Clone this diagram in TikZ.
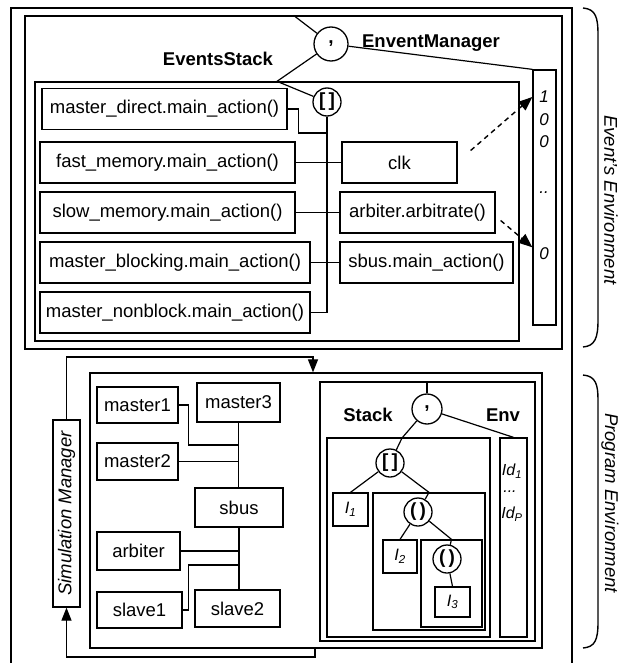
\documentclass[tikz,border=0pt]{standalone}
\usepackage{fontspec}
\setmainfont{Liberation Sans}
\usetikzlibrary{arrows.meta}
\begin{document}
\begin{tikzpicture}[
            x=1pt, y=-1pt,
            line width=1.3pt,
            every node/.style={font=\fontsize{18.5}{20}\selectfont},
            cell/.style={draw, rectangle, inner sep=0pt},
            panel/.style={draw, rectangle, inner sep=0pt},
            op/.style={circle, draw, fill=white, inner sep=0pt, font=\fontsize{19}{20}\selectfont\bfseries},
            title/.style={font=\fontsize{18.5}{20}\selectfont\bfseries},
            bit/.style={inner sep=0pt, font=\fontsize{17}{18}\selectfont\itshape},
            link/.style={line width=1.2pt},
            cue/.style={line width=1.4pt, dash pattern=on 5pt off 4pt, -{Triangle[length=14pt,width=11pt]}},
            flow/.style={line width=1.2pt, -{Triangle[length=13pt,width=10pt]}},
            side/.style={rotate=-90, font=\fontsize{18.5}{20}\selectfont\itshape},
            bracket/.style={line width=1.4pt}
        ]
            \useasboundingbox (0,0) rectangle (624,663);

            % event's environment
            \draw (11,663) -- (11,8) -- (572,8) -- (572,663);
            \node[panel, minimum width=537pt, minimum height=333pt] (evenv) at (293.5,182.5) {};
            \node[panel, minimum width=484pt, minimum height=259pt] (evstack) at (277,211.5) {};
            \node[panel, minimum width=23pt, minimum height=255pt] (evcol) at (544.5,197.5) {};
            \node[op, minimum size=34pt] (evcomma) at (331,44) {,};
            \node[op, minimum size=28pt] (evlist) at (327,102) {[\,]};
            \node[title] (evmgrlbl) at (431,43) {EnventManager};
            \node[title] (evstklbl) at (218,59) {EventsStack};

            \foreach \n/\x/\y/\w/\t in {md/164.5/109/245/master\_direct.main\_action(),
                fm/167.5/162.5/255/fast\_memory.main\_action(),
                sm/167.5/212.5/255/slow\_memory.main\_action(),
                mb/175/262.5/270/master\_blocking.main\_action(),
                mn/175/312.5/270/master\_nonblock.main\_action(),
                clk/399.5/162.5/115/clk,
                arb/417.5/212.5/155/arbiter.arbitrate(),
                sbm/426.5/262.5/173/sbus.main\_action()} {
                \node[cell, minimum width=\w pt, minimum height=41pt] (\n) at (\x,\y) {\t};
            }

            \foreach \n/\y/\t in {bit1/97/1,bit2/120/0,bit3/142/0,bit4/193/..,bit5/254/0} {
                \node[bit] (\n) at (544,\y) {\t};
            }

            \draw[link] (evenv.north) -- (evcomma);
            \draw[link] (evcomma) -- (evstack.north) -- (evlist);
            \draw[link] (evcomma) -- (evcol.north west);

            \coordinate (mdjoint) at (327,133);
            \draw[link] (md.east) -- ++(11,0) |- (mdjoint);
            \draw[link] (evlist) -- (evlist |- mn.east) -- (mn.east);
            \draw[link] (fm) -- (clk);
            \draw[link] (sm) -- (arb);
            \draw[link] (mb) -- (sbm);

            \draw[cue] ([xshift=13pt,yshift=12pt]clk.east) -- (evcol.west |- bit1);
            \draw[cue] ([xshift=5pt,yshift=-8pt]arb.east) -- (evcol.west |- bit5.north);

            % program environment
            \node[panel, minimum width=452pt, minimum height=275pt] (prog) at (316,510.5) {};
            \node[cell, rotate=90, minimum width=187pt, minimum height=27pt, font=\fontsize{18.5}{20}\selectfont\itshape] (simmgr) at (66.5,513.5) {Simulation Manager};

            \coordinate (looptop) at (313,357);
            \coordinate (loopbot) at (315,657);
            \draw[flow] (simmgr.east) |- (looptop) -- (looptop |- prog.north);
            \draw[flow] (loopbot |- prog.south) -- (loopbot) -| (simmgr.west);

            \foreach \n/\x/\y/\w/\h/\t in {mst1/137.5/405/81/36/master1,
                mst3/238.5/402.5/83/39/master3,
                mst2/137.5/461.5/81/37/master2,
                bus/239/507.5/88/39/sbus,
                arbt/138.5/551/83/38/arbiter,
                slv1/139.5/610/85/36/slave1,
                slv2/237.5/608.5/85/37/slave2} {
                \node[cell, minimum width=\w pt, minimum height=\h pt] (\n) at (\x,\y) {\t};
            }

            \coordinate (m1joint) at (238,445);
            \coordinate (s1joint) at (238,565);
            \draw[link] (mst3.south) -- (mst3.south |- bus.north);
            \draw[link] (mst1.east) -- ++(10,0) |- (m1joint);
            \draw[link] (mst2.east) -- (mst2.east -| m1joint);
            \draw[link] (bus.south) -- (bus.south |- slv2.north);
            \draw[link] (arbt.east) -- (arbt.east -| s1joint);
            \draw[link] (slv1.east) -- ++(6,0) |- (s1joint);

            \node[panel, minimum width=215pt, minimum height=259pt] (stkenv) at (427.5,511.5) {};
            \node[panel, minimum width=163pt, minimum height=199pt] (stk) at (408.5,537.5) {};
            \node[panel, minimum width=27pt, minimum height=199pt] (envcol) at (513.5,537.5) {};
            \node[panel, minimum width=112pt, minimum height=137pt] (sub2) at (429,561.5) {};
            \node[panel, minimum width=61pt, minimum height=87pt] (sub3) at (451.5,583.5) {};
            \node[op, minimum size=30pt] (stcomma) at (427,409) {,};
            \node[title] (stklbl) at (368,415) {Stack};
            \node[title] (envlbl) at (503,415) {Env};
            \node[op, minimum size=28pt] (stlist) at (390,463) {[\,]};
            \node[op, minimum size=28pt] (pair2) at (418,512) {(\,)};
            \node[op, minimum size=28pt] (pair3) at (447,559) {(\,)};
            \node[cell, minimum width=35pt, minimum height=33pt, font=\fontsize{16.5}{18}\selectfont\itshape] (i1) at (350.5,509.5) {I\textsubscript{1}};
            \node[cell, minimum width=34pt, minimum height=33pt, font=\fontsize{16.5}{18}\selectfont\itshape] (i2) at (400,556.5) {I\textsubscript{2}};
            \node[cell, minimum width=35pt, minimum height=30pt, font=\fontsize{16.5}{18}\selectfont\itshape] (i3) at (452.5,602) {I\textsubscript{3}};
            \node[bit, font=\fontsize{16}{18}\selectfont\itshape] (id1) at (512,471) {Id\textsubscript{1}};
            \node[bit, font=\fontsize{16}{18}\selectfont\itshape] (iddots) at (510,492) {...};
            \node[bit, font=\fontsize{16}{18}\selectfont\itshape] (idp) at (512,514) {Id\textsubscript{P}};

            \coordinate (stkjoint) at (402,438);
            \draw[link] (stcomma) -- (stcomma |- stkenv.north);
            \draw[link] (stcomma) -- (stkjoint) -- (stlist);
            \draw[link] (stcomma) -- (envcol.north);
            \draw[link] (stlist) -- (i1.north);
            \draw[link] (stlist) -- (sub2.north) -- (pair2);
            \draw[link] (pair2) -- (i2.north);
            \draw[link] (pair2) -- (sub3.north) -- (pair3);
            \draw[link] (pair3) -- (i3.north);

            % side brackets
            \draw[bracket] (583,8) .. controls (596,9) and (598,18) .. (598,35) -- (598,320) .. controls (598,338) and (595,346) .. (583,347);
            \draw[bracket] (583,375) .. controls (596,376) and (598,385) .. (598,400) -- (598,622) .. controls (598,640) and (595,647) .. (583,648);
            \node[side] (evenvlbl) at (611,200) {Event's Environment};
            \node[side] (proglbl) at (610,503) {Program Environment};

        \end{tikzpicture}
\end{document}
